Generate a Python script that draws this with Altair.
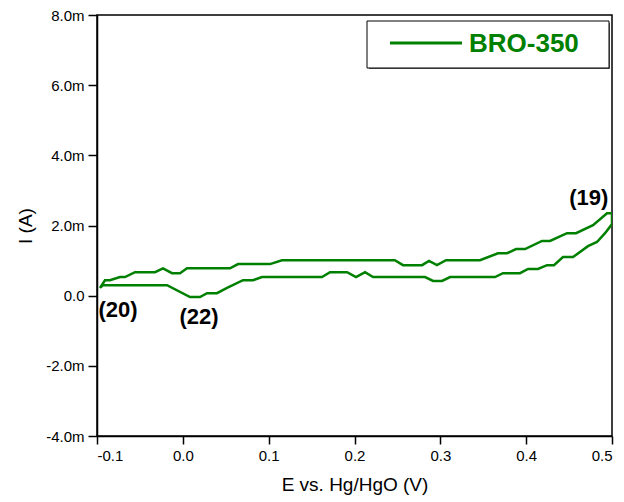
import altair as alt
import pandas as pd

# Cyclic voltammogram, potential (V) vs current (mA), loop order
upper_E = [-0.0965, -0.0907, -0.0849, -0.0732, -0.0674, -0.0557, -0.0324, -0.0231, -0.0126, -0.0033,
           0.0049, 0.055, 0.0643, 0.1016, 0.1155, 0.247, 0.2565, 0.2787, 0.2868, 0.2961, 0.3066,
           0.3462, 0.3672, 0.3777, 0.3882, 0.3987, 0.4185, 0.4278, 0.4476, 0.4581, 0.4779, 0.4942, 0.5]
upper_I = [0.22, 0.44, 0.44, 0.53, 0.53, 0.67, 0.67, 0.78, 0.64, 0.64,
           0.78, 0.78, 0.90, 0.90, 1.01, 1.01, 0.87, 0.87, 0.99, 0.87, 1.01,
           1.01, 1.21, 1.21, 1.33, 1.33, 1.56, 1.56, 1.78, 1.78, 2.01, 2.35, 2.35]
lower_E = [0.5, 0.4919, 0.4825, 0.472, 0.4546, 0.4429, 0.4324, 0.4243, 0.4138, 0.4022, 0.3928,
           0.373, 0.3637, 0.3113, 0.302, 0.2915, 0.2822, 0.2216, 0.2123, 0.2018, 0.1913, 0.1715,
           0.1621, 0.0922, 0.0818, 0.0701, 0.0515, 0.0398, 0.0282, 0.02, 0.0084, -0.0184, -0.093, -0.0965]
lower_I = [2.04, 1.78, 1.53, 1.41, 1.10, 1.10, 0.87, 0.87, 0.76, 0.76, 0.64,
           0.64, 0.53, 0.53, 0.42, 0.42, 0.53, 0.53, 0.67, 0.53, 0.67, 0.67,
           0.53, 0.53, 0.44, 0.44, 0.22, 0.07, 0.07, -0.04, -0.04, 0.30, 0.30, 0.22]

labels = ["(20)", "(22)", "(19)"]
label_E = [-0.0755, 0.0189, 0.473]
label_I = [-0.42, -0.60, 2.78]

series_name = "BRO-350"
green = "#008000"

E = upper_E + lower_E
I = upper_I + lower_I
df = pd.DataFrame({"E": E, "I": I, "idx": list(range(len(E))), "series": series_name})
lab = pd.DataFrame({"E": label_E, "I": label_I, "t": labels})
leg = pd.DataFrame({"name": [series_name]})

font = "Liberation Sans"

xscale = alt.Scale(domain=[-0.1, 0.5], nice=False, zero=False)
yscale = alt.Scale(domain=[-4, 8], nice=False, zero=False)

line = alt.Chart(df).mark_line(strokeWidth=2.5, clip=True, color=green).encode(
    x=alt.X("E:Q", scale=xscale,
            axis=alt.Axis(title="E vs. Hg/HgO (V)", values=[-0.1, 0, 0.1, 0.2, 0.3, 0.4, 0.5],
                          labelExpr="replace(format(datum.value, '.1f'), '\u2212', '-')", grid=False,
                          tickSize=8, labelPadding=4, titlePadding=12)),
    y=alt.Y("I:Q", scale=yscale,
            axis=alt.Axis(title="I (A)", values=[-4, -3, -2, -1, 0, 1, 2, 3, 4, 5, 6, 7, 8],
                          labelExpr="datum.value % 2 != 0 ? '' : (datum.value == 0 ? '0.0' : replace(format(datum.value, '.1f'), '\u2212', '-') + 'm')",
                          tickSize={"condition": {"test": "datum.value % 2 != 0", "value": 5}, "value": 9},
                          grid=False, labelPadding=4, titlePadding=10)),
    order="idx:Q",
)

text = alt.Chart(lab).mark_text(font=font, fontSize=22, fontWeight="bold", color="black").encode(
    x="E:Q", y="I:Q", text="t:N"
)

# legend box (drawn manually)
leg_shadow = alt.Chart(leg).mark_rect(fill="#666666").encode(
    x=alt.value(272), x2=alt.value(513), y=alt.value(8), y2=alt.value(54)
)
leg_box = alt.Chart(leg).mark_rect(fill="white", stroke="black", strokeWidth=1).encode(
    x=alt.value(270), x2=alt.value(512), y=alt.value(6), y2=alt.value(53)
)
leg_line = alt.Chart(leg).mark_rule(color=green, strokeWidth=3).encode(
    x=alt.value(293), x2=alt.value(365), y=alt.value(28)
)
leg_text = alt.Chart(leg).mark_text(font=font, fontSize=26, fontWeight="bold", color=green,
                                    align="left", baseline="middle").encode(
    x=alt.value(372), y=alt.value(29), text="name:N"
)

chart = (line + text + leg_shadow + leg_box + leg_line + leg_text).properties(
    width=515, height=421,
    padding={"left": 89, "top": 7, "right": 4, "bottom": 66},
    autosize=alt.AutoSizeParams(type="none"),
).configure_view(stroke="black", strokeWidth=1.5).configure_axis(
    domainColor="black", tickColor="black", labelColor="black", titleColor="black",
    labelFont=font, titleFont=font, labelFontSize=15, titleFontSize=19, titleFontWeight="normal",
    domainWidth=1.5, tickWidth=1.5,
)

chart.save("out.html", embed_options={"renderer": "svg", "actions": False})
